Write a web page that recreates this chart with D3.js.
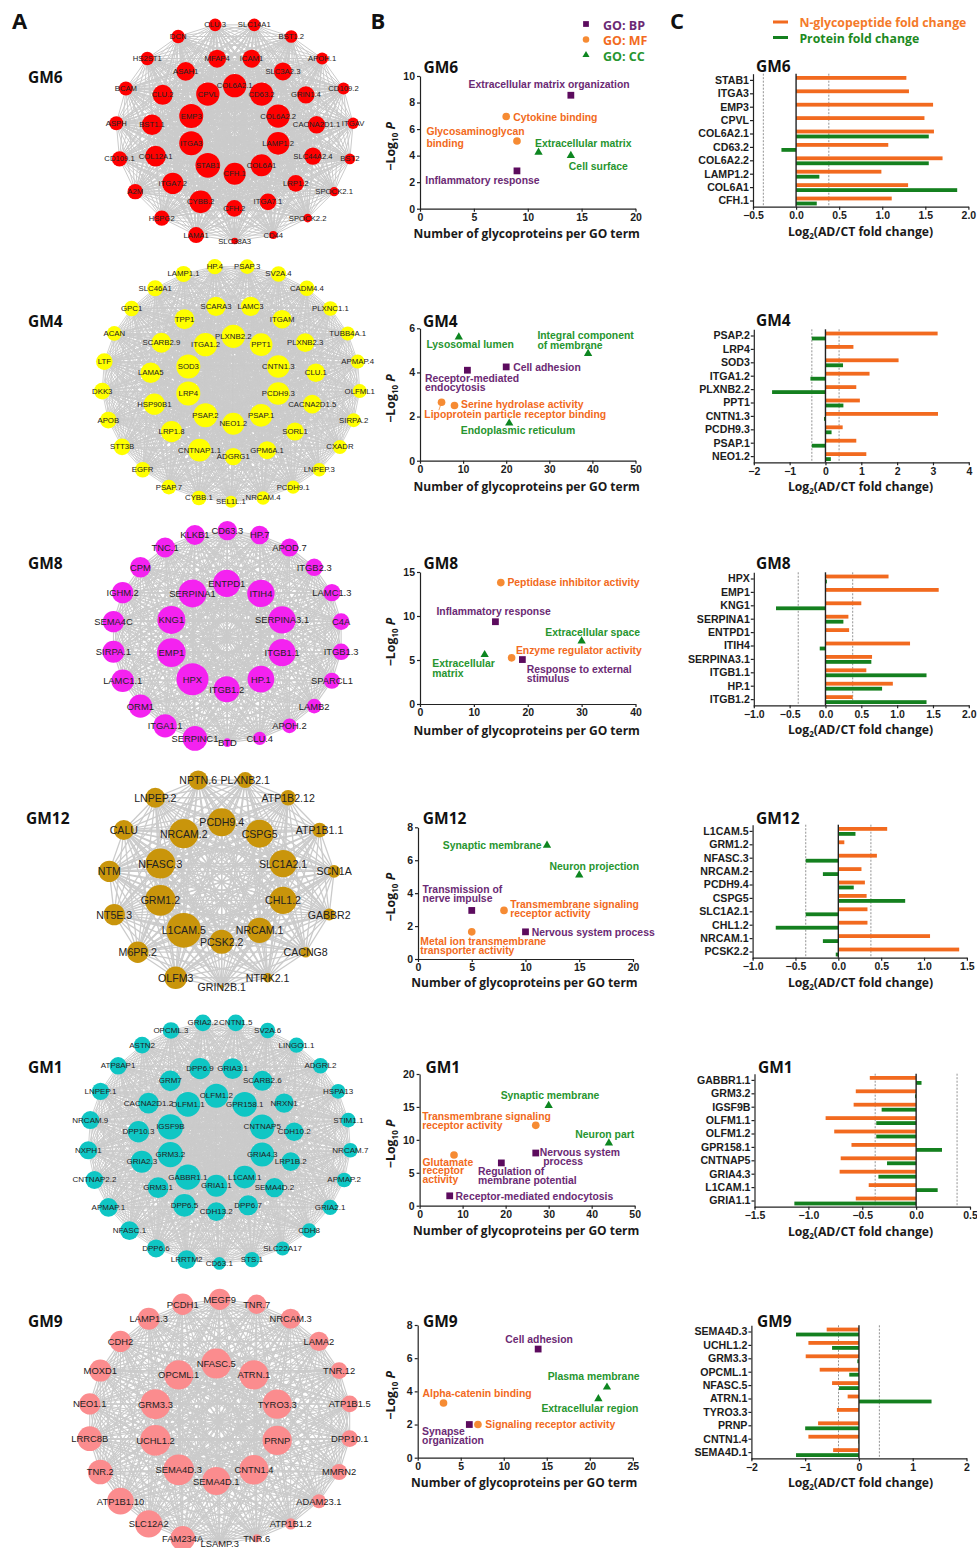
<!DOCTYPE html>
<html>
<head>
<meta charset="utf-8">
<script src="https://cdn.jsdelivr.net/npm/d3@7"></script>
<style>
  body { margin: 0; background: #fff; }
  svg { display: block; }
</style>
</head>
<body>
<div id="container"></div>
<script>
// ---------- network nodes: names per ring (clockwise from the bottom) and node weight ----------
let gm6Outer = ["LAMA1","HSPG2","A2M","CD109.1","ASPH","BCAM","HS2ST1","DCN","CLU.3","SLC14A1","BST1.2","APOH.1","CD109.2","ITGAV","BST2","SPOCK2.1","SPOCK2.2","CD44","SLC38A3"];
let gm6OuterSize = [24,23,23,23,21,21,20,20,19,19,19,18,18,17,16,14,13,12,10];
let gm6Mid = ["CYBB.2","ITGA7.2","COL12A1","BST1.1","CLU.2","ASAH1","MFAP4","ICAM1","SLC3A2.3","GRIN1.4","CACNA2D1.1","SLC44A2.4","LRP1.2","ITGA7.1","CFH.2"];
let gm6MidSize = [34,32,31,31,30,28,27,27,27,26,26,26,25,25,25];
let gm6Inner = ["STAB1","ITGA3","EMP3","CPVL","COL6A2.1","CD63.2","COL6A2.2","LAMP1.2","COL6A1","CFH.1"];
let gm6InnerSize = [37,36,36,35,35,35,35,34,33,33];

let gm4Outer = ["CYBB.1","PSAP.7","EGFR","STT3B","APOB","DKK3","LTF","ACAN","GPC1","SLC46A1","LAMP1.1","HP.4","PSAP.3","SV2A.4","CADM4.4","PLXNC1.1","TUBB4A.1","APMAP.4","OLFML1","SIRPA.2","CXADR","LNPEP.3","PCDH9.1","NRCAM.4","SEL1L.1"];
let gm4OuterSize = [22,22,23,25,25,25,25,22,23,24,24,23,22,23,23,22,21,21,21,21,21,20,20,20,18];
let gm4Mid = ["CNTNAP1.1","LRP1.8","HSP90B1","LAMA5","SCARB2.9","TPP1","SCARA3","LAMC3","ITGAM","PLXNB2.3","CLU.1","CACNA2D1.5","SORL1","GPM6A.1","ADGRG1"];
let gm4MidSize = [34,32,32,31,30,30,29,29,28,28,28,28,27,27,26];
let gm4Inner = ["PSAP.2","LRP4","SOD3","ITGA1.2","PLXNB2.2","PPT1","CNTN1.3","PCDH9.3","PSAP.1","NEO1.2"];
let gm4InnerSize = [36,36,36,35,35,34,34,34,34,33];

let gm8Outer = ["SERPINC1","ITGA1.1","ORM1","LAMC1.1","SIRPA.1","SEMA4C","IGHM.2","CPM","TNC.1","KLKB1","CD63.3","HP.7","APOD.7","ITGB2.3","LAMC1.3","C4A","ITGB1.3","SPARCL1","LAMB2","APOH.2","CLU.4","BTD"];
let gm8OuterSize = [37,35,35,34,33,32,32,31,30,30,29,28,27,26,26,25,25,24,22,22,20,13];
let gm8Inner = ["HPX","EMP1","KNG1","SERPINA1","ENTPD1","ITIH4","SERPINA3.1","ITGB1.1","HP.1","ITGB1.2"];
let gm8InnerSize = [48,43,42,42,41,41,41,41,40,39];

let gm12Outer = ["OLFM3","M6PR.2","NT5E.3","NTM","CALU","LNPEP.2","NPTN.6","PLXNB2.1","ATP1B2.12","ATP1B1.1","SCN1A","GABBR2","CACNG8","NTRK2.1","GRIN2B.1"];
let gm12OuterSize = [34,32,32,32,30,30,29,24,23,22,19,18,16,14,6];
let gm12Inner = ["L1CAM.5","GRM1.2","NFASC.3","NRCAM.2","PCDH9.4","CSPG5","SLC1A2.1","CHL1.2","NRCAM.1","PCSK2.2"];
let gm12InnerSize = [52,46,45,44,42,42,41,41,38,36];

let gm1Outer = ["LRRTM2","DPP6.6","NFASC.1","APMAP.1","CNTNAP2.2","NXPH1","NRCAM.9","LNPEP.1","ATP8AP1","ASTN2","OPCML.3","GRIA2.2","CNTN1.5","SV2A.6","LINGO1.1","ADGRL2","HSPA13","STIM1.1","NRCAM.7","APMAP.2","GRIA2.1","CDH8","SLC22A17","STS.1","CD63.1"];
let gm1OuterSize = [28,27,28,28,27,27,27,26,26,25,25,25,25,23,23,23,22,22,22,22,23,22,21,23,19];
let gm1Mid = ["DPP6.5","GRM3.1","GRIA2.3","DPP10.3","CACNA2D1.2","GRM7","DPP6.9","GRIA3.1","SCARB2.6","NRXN1","CDH10.2","LRP1B.2","SEMA4D.2","DPP6.7","CDH13.2"];
let gm1MidSize = [34,31,33,32,31,31,32,31,30,29,28,28,29,30,28];
let gm1Inner = ["GABBR1.1","GRM3.2","IGSF9B","OLFM1.1","OLFM1.2","GPR158.1","CNTNAP5","GRIA4.3","L1CAM.1","GRIA1.1"];
let gm1InnerSize = [38,38,38,37,36,37,37,36,34,33];

let gm9Outer = ["FAM234A","SLC12A2","ATP1B1.10","TNR.2","LRRC8B","NEO1.1","MOXD1","CDH2","LAMP1.3","PCDH1","MEGF9","TNR.7","NRCAM.3","LAMA2","TNR.12","ATP1B1.5","DPP10.1","MMRN2","ADAM23.1","ATP1B1.2","TNR.6","LSAMP.3"];
let gm9OuterSize = [37,41,40,37,37,32,33,32,33,32,32,29,30,29,25,25,25,24,21,17,12,5];
let gm9Inner = ["SEMA4D.3","UCHL1.2","GRM3.3","OPCML.1","NFASC.5","ATRN.1","TYRO3.3","PRNP","CNTN1.4","SEMA4D.1"];
let gm9InnerSize = [46,46,45,44,45,44,44,44,44,42];

// ---------- GO term scatter data ("\n" splits a label over lines) ----------
let gm6Terms = ["Extracellular matrix organization","Cytokine binding","Glycosaminoglycan\nbinding","Extracellular matrix","Cell surface","Inflammatory response"];
let gm6Kinds = ["BP","MF","MF","CC","CC","BP"];
let gm6Counts = [14,8,9,11,14,9];
let gm6LogP = [8.55,6.95,5.1,4.25,4.0,2.85];

let gm4Terms = ["Lysosomal lumen","Integral component\nof membrane","Cell adhesion","Receptor-mediated\nendocytosis","Serine hydrolase activity","Lipoprotein particle receptor binding","Endoplasmic reticulum"];
let gm4Kinds = ["CC","CC","BP","BP","MF","MF","CC"];
let gm4Counts = [9,39,20,11,8,5,20.7];
let gm4LogP = [5.6,4.85,4.25,4.1,2.5,2.65,1.7];

let gm8Terms = ["Peptidase inhibitor activity","Inflammatory response","Extracellular space","Extracellular\nmatrix","Enzyme regulator activity","Response to external\nstimulus"];
let gm8Kinds = ["MF","BP","CC","CC","MF","BP"];
let gm8Counts = [15,14,30,12,17,19];
let gm8LogP = [13.8,9.35,7.15,5.6,5.25,5.05];

let gm12Terms = ["Synaptic membrane","Neuron projection","Transmission of\nnerve impulse","Transmembrane signaling\nreceptor activity","Metal ion transmembrane\ntransporter activity","Nervous system process"];
let gm12Kinds = ["CC","CC","BP","MF","MF","BP"];
let gm12Counts = [12,15,5,8,5,10];
let gm12LogP = [6.9,5.1,2.95,2.95,1.65,1.65];

let gm1Terms = ["Synaptic membrane","Transmembrane signaling\nreceptor activity","Neuron part","Nervous system\nprocess","Glutamate\nreceptor\nactivity","Regulation of\nmembrane potential","Receptor-mediated endocytosis"];
let gm1Kinds = ["CC","MF","CC","BP","MF","BP","BP"];
let gm1Counts = [30,27,44,27,8,19,7];
let gm1LogP = [15.2,12.2,9.5,8,7.7,6.5,1.5];

let gm9Terms = ["Cell adhesion","Plasma membrane","Extracellular region","Alpha-catenin binding","Synapse\norganization","Signaling receptor activity"];
let gm9Kinds = ["BP","CC","CC","MF","BP","MF"];
let gm9Counts = [14,22,21,3,6,7];
let gm9LogP = [6.55,4.25,3.55,3.3,2,2];

// ---------- fold change bars (genes come from the inner ring, same order) ----------
let gm6Glyco = [1.28,1.31,1.59,1.49,1.6,1.07,1.7,0.99,1.3,1.11];
let gm6Protein = [0,0,0,0,1.54,-0.17,1.54,0.27,1.87,0.24];
let gm4Glyco = [3.13,0.78,2.04,1.23,0.86,0.96,3.14,0.48,0.86,1.14];
let gm4Protein = [-0.38,0,0.49,-0.42,-1.49,0.5,-0.04,0.17,-0.38,0.15];
let gm8Glyco = [0.88,1.58,0.5,0.32,0.33,1.18,0.65,0.57,0.94,0.38];
let gm8Protein = [0.02,0,-0.69,0.25,0,-0.08,0.64,1.41,0.79,1.41];
let gm12Glyco = [0.57,0.07,0.45,0.27,0.31,0.33,0.34,0.34,1.07,1.41];
let gm12Protein = [0.2,0,-0.38,-0.18,0.18,0.78,-0.38,-0.73,-0.18,-0.03];
let gm1Glyco = [-0.43,-0.56,-0.58,-0.84,-0.76,-0.6,-0.7,-0.71,-0.44,-0.56];
let gm1Protein = [0.05,-0.01,-0.32,-0.37,-0.37,0.24,-0.27,-0.35,0.2,-1.13];
let gm9Glyco = [-0.6,-0.94,-0.99,-0.73,-0.5,-0.21,-0.41,-0.76,-0.94,-0.48];
let gm9Protein = [-1.17,-0.5,-0.03,-0.18,-0.37,1.35,0,-1.0,-0.01,-1.17];

let thresholdFold = 0.38;

// ---------- layout: where things go, kept apart from the values ----------
let w = 977;
let h = 1548;

let kindColor = {BP: "#5c0b5e", MF: "#f68b33", CC: "#0d8620"};
let kindText = {BP: "#6b2a74", MF: "#f26a21", CC: "#27952f"};
let glycoColor = "#f26a1f";
let proteinColor = "#14801f";
let titleFont = "'Open Sans', sans-serif";
let bodyFont = "'Liberation Sans', Arial, sans-serif";

let modules = [
  {name: "GM6", fill: "#ff0000", labelSize: 7.7, edgeWidth: 1, headY: 77,
    rings: [
      {names: gm6Outer, sizes: gm6OuterSize, cx: 234.7, cy: 132.2, rx: 118.8, ry: 108.8},
      {names: gm6Mid, sizes: gm6MidSize, cx: 234.3, cy: 132.7, rx: 82.7, ry: 75.7},
      {names: gm6Inner, sizes: gm6InnerSize, cx: 234.7, cy: 129.7, rx: 45.7, ry: 44}],
    terms: gm6Terms, kinds: gm6Kinds, counts: gm6Counts, logP: gm6LogP,
    // [dx, dy, line gap, extra indent of later lines] from the marker
    labelAt: [[-102.3,-10.3],[7,0.7],[-90.6,-9.3,12],[-3.5,-9.3],[-2,10.7],[-91.7,9.3]],
    sc: {x0: 420, x1: 635.5, top: 76, y0: 208.7, xMax: 20, yMax: 10, xTicks: [0,5,10,15,20], yTicks: [0,2,4,6,8,10], headY: 66.7, headX: 423.5, titleGap: 24.5},
    bars: {x0: 753, x1: 968.4, axisY: 206.7, xMin: -0.5, xMax: 2, ticks: [-0.5,0,0.5,1,1.5,2], fmt: ".1f", headX: 756, headY: 65.7, glyco: gm6Glyco, protein: gm6Protein}},
  {name: "GM4", fill: "#ffff00", labelSize: 7.8, edgeWidth: 0.9, headY: 320.7,
    rings: [
      {names: gm4Outer, sizes: gm4OuterSize, cx: 231, cy: 383.7, rx: 129, ry: 118},
      {names: gm4Mid, sizes: gm4MidSize, cx: 233.3, cy: 380.7, rx: 83, ry: 76},
      {names: gm4Inner, sizes: gm4InnerSize, cx: 233.3, cy: 380, rx: 47.3, ry: 43.7}],
    terms: gm4Terms, kinds: gm4Kinds, counts: gm4Counts, logP: gm4LogP,
    labelAt: [[-32.4,7.3],[-50.7,-18.3,10],[7,0.7],[-42.5,8.7,9],[6.6,-1],[-17.2,12],[-48.4,7.3]],
    leader: "Lipoprotein particle receptor binding",
    sc: {x0: 420, x1: 635.5, top: 328.3, y0: 460.7, xMax: 50, yMax: 6, xTicks: [0,10,20,30,40,50], yTicks: [0,2,4,6], headY: 320.7, headX: 423, titleGap: 26},
    bars: {x0: 753.8, x1: 968.8, axisY: 462.3, xMin: -2, xMax: 4, ticks: [-2,-1,0,1,2,3,4], fmt: "d", headX: 756, headY: 320, glyco: gm4Glyco, protein: gm4Protein}},
  {name: "GM8", fill: "#f422f0", labelSize: 9.4, edgeWidth: 1.1, headY: 563,
    rings: [
      {names: gm8Outer, sizes: gm8OuterSize, cx: 227.3, cy: 636.7, rx: 115, ry: 106},
      {names: gm8Inner, sizes: gm8InnerSize, cx: 226.7, cy: 636.3, rx: 58.2, ry: 53}],
    terms: gm8Terms, kinds: gm8Kinds, counts: gm8Counts, logP: gm8LogP,
    labelAt: [[6.6,0],[-59,-10.7],[-36.3,-8.3],[-52.3,9,9.7],[4.3,-7.3],[4.3,9.7,9.3]],
    sc: {x0: 420, x1: 635.5, top: 572, y0: 704, xMax: 40, yMax: 15, xTicks: [0,10,20,30,40], yTicks: [0,5,10,15], headY: 563, headX: 423.5, titleGap: 26},
    bars: {x0: 753.8, x1: 968.8, axisY: 705.3, xMin: -1, xMax: 2, ticks: [-1,-0.5,0,0.5,1,1.5,2], fmt: ".1f", headX: 756, headY: 563, glyco: gm8Glyco, protein: gm8Protein}},
  {name: "GM12", fill: "#c9950b", labelSize: 10.6, edgeWidth: 1.3, headY: 818,
    rings: [
      {names: gm12Outer, sizes: gm12OuterSize, cx: 221.7, cy: 882.3, rx: 113, ry: 104.5},
      {names: gm12Inner, sizes: gm12InnerSize, cx: 221.7, cy: 882, rx: 64.5, ry: 59.7}],
    terms: gm12Terms, kinds: gm12Kinds, counts: gm12Counts, logP: gm12LogP,
    labelAt: [[-104.2,0],[-29.7,-8.7],[-49.2,-21.3,9.3],[6.2,-6,8.7],[-51.5,9.7,8.6],[6.2,0.3]],
    sc: {x0: 418, x1: 633, top: 827.3, y0: 959, xMax: 20, yMax: 8, xTicks: [0,5,10,15,20], yTicks: [0,2,4,6,8], headY: 817.7, headX: 422.8, titleGap: 23},
    bars: {x0: 752.6, x1: 966.9, axisY: 957.7, xMin: -1, xMax: 1.5, ticks: [-1,-0.5,0,0.5,1,1.5], fmt: ".1f", headX: 756, headY: 817.7, glyco: gm12Glyco, protein: gm12Protein}},
  {name: "GM1", fill: "#0fc6c4", labelSize: 8, edgeWidth: 0.9, headY: 1067,
    rings: [
      {names: gm1Outer, sizes: gm1OuterSize, cx: 219.3, cy: 1142.7, rx: 131.3, ry: 120.7},
      {names: gm1Mid, sizes: gm1MidSize, cx: 216.3, cy: 1139.3, rx: 78.3, ry: 72.3},
      {names: gm1Inner, sizes: gm1InnerSize, cx: 216.3, cy: 1140.7, rx: 48.3, ry: 45}],
    terms: gm1Terms, kinds: gm1Kinds, counts: gm1Counts, logP: gm1LogP,
    labelAt: [[-48,-10.3],[-113.6,-9,9],[-33.6,-8.7],[3.9,-1,9.2,3.5],[-31.6,7.3,8.7],[-23.4,8.7,9],[5.9,1]],
    sc: {x0: 419.6, x1: 634.7, top: 1074, y0: 1205.7, xMax: 50, yMax: 20, xTicks: [0,10,20,30,40,50], yTicks: [0,5,10,15,20], headY: 1067, headX: 425.5, titleGap: 25},
    bars: {x0: 754.5, x1: 970, axisY: 1206.7, xMin: -1.5, xMax: 0.5, ticks: [-1.5,-1,-0.5,0,0.5], fmt: ".1f", headX: 758, headY: 1067, glyco: gm1Glyco, protein: gm1Protein}},
  {name: "GM9", fill: "#fb8c8e", labelSize: 9.4, edgeWidth: 1.1, headY: 1321,
    rings: [
      {names: gm9Outer, sizes: gm9OuterSize, cx: 219.7, cy: 1421.3, rx: 131.3, ry: 122},
      {names: gm9Inner, sizes: gm9InnerSize, cx: 216.3, cy: 1422.3, rx: 64, ry: 58.7}],
    terms: gm9Terms, kinds: gm9Kinds, counts: gm9Counts, logP: gm9LogP,
    labelAt: [[-32.8,-10],[-59.3,-10.7],[-57,9.7],[-21,-9.7],[-47.2,6.7,9.3],[7.4,0]],
    sc: {x0: 417.7, x1: 632.8, top: 1325, y0: 1457.7, xMax: 25, yMax: 8, xTicks: [0,5,10,15,20,25], yTicks: [0,2,4,6,8], headY: 1320.7, headX: 423, titleGap: 25},
    bars: {x0: 751.4, x1: 966.5, axisY: 1458.3, xMin: -2, xMax: 2, ticks: [-2,-1,0,1,2], fmt: "d", headX: 757, headY: 1320.7, glyco: gm9Glyco, protein: gm9Protein}}
];

let viz = d3.select("#container")
  .append("svg")
    .attr("width", w)
    .attr("height", h)
    .attr("viewBox", "0 0 " + w + " " + h)
;

function heading(x, y, label, size){
  viz.append("text")
    .text(label)
    .attr("x", x)
    .attr("y", y)
    .attr("dominant-baseline", "central")
    .attr("font-family", titleFont)
    .attr("font-weight", 700)
    .attr("font-size", size)
    .attr("fill", "#111")
  ;
}

// panel letters
heading(12, 20, "A", 22);
heading(370.5, 20, "B", 22);
heading(670, 20, "C", 22);

// ---------- panel A: circular networks ----------
let nodeRadius = d3.scaleLinear().domain([0, 60]).range([0, 20]);

function drawNetwork(mod){
  heading(mod.name == "GM12" ? 26 : 28, mod.headY, mod.name, 15.5);

  let nodes = [];
  mod.rings.forEach(function(ring){
    let ringX = d3.scaleLinear().domain([-1, 1]).range([ring.cx - ring.rx, ring.cx + ring.rx]);
    let ringY = d3.scaleLinear().domain([-1, 1]).range([ring.cy - ring.ry, ring.cy + ring.ry]);
    // the bottom node is the last one, the first sits one step clockwise of it
    let angle = d3.scaleLinear().domain([0, ring.names.length]).range([0, 2 * Math.PI]);
    ring.names.forEach(function(name, i){
      nodes.push({
        name: name,
        size: ring.sizes[i],
        x: ringX(-Math.sin(angle(i + 1))),
        y: ringY(Math.cos(angle(i + 1)))
      });
    });
  });

  // every pair of nodes in a module is linked
  let edges = d3.cross(nodes, nodes).filter(function(pair){
    return nodes.indexOf(pair[0]) < nodes.indexOf(pair[1]);
  });

  let g = viz.append("g").attr("class", "network");
  g.append("g").selectAll("line").data(edges).enter()
    .append("line")
      .attr("x1", function(d){ return d[0].x; })
      .attr("y1", function(d){ return d[0].y; })
      .attr("x2", function(d){ return d[1].x; })
      .attr("y2", function(d){ return d[1].y; })
      .attr("stroke", "#cbcbcb")
      .attr("stroke-width", mod.edgeWidth)
  ;
  g.append("g").selectAll("circle").data(nodes).enter()
    .append("circle")
      .attr("cx", function(d){ return d.x; })
      .attr("cy", function(d){ return d.y; })
      .attr("r", function(d){ return nodeRadius(d.size); })
      .attr("fill", mod.fill)
  ;
  g.append("g").selectAll("text").data(nodes).enter()
    .append("text")
      .text(function(d){ return d.name; })
      .attr("x", function(d){ return d.x; })
      .attr("y", function(d){ return d.y; })
      .attr("text-anchor", "middle")
      .attr("dominant-baseline", "central")
      .attr("font-family", bodyFont)
      .attr("font-size", mod.labelSize)
      .attr("fill", "#222")
  ;
}

function styleAxis(axisGroup, fontSize){
  axisGroup.selectAll("text")
    .attr("font-family", bodyFont)
    .attr("font-weight", 700)
    .attr("font-size", fontSize)
    .attr("fill", "#1c1c1c")
  ;
  axisGroup.selectAll("path, line").attr("stroke", "#222").attr("stroke-width", 1.2);
}

// ---------- panel B: GO term scatter ----------
let markers = {
  BP: d3.symbol().type(d3.symbolSquare).size(46),
  MF: d3.symbol().type(d3.symbolCircle).size(46),
  CC: d3.symbol().type(d3.symbolTriangle).size(30)
};

function drawScatter(mod){
  let sc = mod.sc;
  heading(sc.headX, sc.headY, mod.name, 15.5);

  let xScale = d3.scaleLinear().domain([0, sc.xMax]).range([sc.x0, sc.x1]);
  let yScale = d3.scaleLinear().domain([0, sc.yMax]).range([sc.y0, sc.top]);

  let xAxis = d3.axisBottom(xScale).tickValues(sc.xTicks).tickFormat(d3.format("d")).tickSize(3).tickSizeOuter(0).tickPadding(2);
  let xAxisGroup = viz.append("g").attr("class", "xaxis");
  xAxisGroup.call(xAxis);
  xAxisGroup.attr("transform", "translate(0, " + sc.y0 + ")");
  styleAxis(xAxisGroup, 10.5);

  let yAxis = d3.axisLeft(yScale).tickValues(sc.yTicks).tickFormat(d3.format("d")).tickSize(3).tickSizeOuter(0).tickPadding(2);
  let yAxisGroup = viz.append("g").attr("class", "yaxis");
  yAxisGroup.call(yAxis);
  yAxisGroup.attr("transform", "translate(" + sc.x0 + ", 0)");
  styleAxis(yAxisGroup, 10.5);

  viz.append("text")
    .text("Number of glycoproteins per GO term")
    .attr("x", (sc.x0 + sc.x1) / 2 - 1)
    .attr("y", sc.y0 + sc.titleGap)
    .attr("text-anchor", "middle")
    .attr("dominant-baseline", "central")
    .attr("font-family", titleFont)
    .attr("font-weight", 700)
    .attr("font-size", 12)
    .attr("fill", "#1a1a1a")
  ;

  let yTitle = viz.append("text")
    .attr("transform", "translate(395, " + ((sc.top + sc.y0) / 2 + 4) + ") rotate(-90)")
    .attr("text-anchor", "middle")
    .attr("font-family", titleFont)
    .attr("font-weight", 700)
    .attr("font-size", 12.4)
    .attr("fill", "#1a1a1a")
  ;
  yTitle.append("tspan").text("\u2212Log");
  yTitle.append("tspan").text("10").attr("font-size", 8).attr("dy", 3);
  yTitle.append("tspan").text(" P").attr("font-style", "italic").attr("dy", -3);

  mod.terms.forEach(function(term, i){
    let px = xScale(mod.counts[i]);
    let py = yScale(mod.logP[i]);
    let kind = mod.kinds[i];

    if(mod.leader == term){
      viz.append("line")
        .attr("x1", px).attr("y1", py)
        .attr("x2", px - 2.7).attr("y2", py + 8)
        .attr("stroke", kindColor[kind])
        .attr("stroke-width", 0.8)
      ;
    }

    viz.append("path")
      .attr("d", markers[kind]())
      .attr("transform", "translate(" + px + ", " + py + ")")
      .attr("fill", kindColor[kind])
    ;

    let at = mod.labelAt[i];
    term.split("\n").forEach(function(line, k){
      viz.append("text")
        .text(line)
        .attr("x", px + at[0] + (k > 0 && at[3] ? at[3] : 0))
        .attr("y", py + at[1] + k * (at[2] || 0))
        .attr("dominant-baseline", "central")
        .attr("font-family", bodyFont)
        .attr("font-weight", 700)
        .attr("font-size", 10.4)
        .attr("fill", kindText[kind])
      ;
    });
  });
}

// ---------- panel C: fold change bars ----------
function drawBars(mod){
  let b = mod.bars;
  // the ten genes of the bars are the ten hubs of the network
  let genes = mod.rings[mod.rings.length - 1].names;
  heading(b.headX, b.headY, mod.name, 15.5);

  let xScale = d3.scaleLinear().domain([b.xMin, b.xMax]).range([b.x0, b.x1]);
  let yScale = d3.scaleBand().domain(genes).range([b.axisY - 133, b.axisY + 1]);
  let inner = d3.scaleBand().domain(["glyco", "protein"]).range([-4.4, 4.4]).paddingInner(0.24);

  // threshold lines
  viz.append("g").selectAll("line").data([-thresholdFold, thresholdFold]).enter()
    .append("line")
      .attr("x1", function(d){ return xScale(d); })
      .attr("x2", function(d){ return xScale(d); })
      .attr("y1", b.axisY - 133)
      .attr("y2", b.axisY)
      .attr("stroke", "#777")
      .attr("stroke-width", 0.8)
      .attr("stroke-dasharray", "2,1.5")
  ;

  function drawSeries(values, key, color){
    viz.append("g").selectAll("rect").data(values).enter()
      .append("rect")
        .attr("x", function(d){ return xScale(Math.min(d, 0)); })
        .attr("width", function(d){ return Math.abs(xScale(d) - xScale(0)); })
        .attr("y", function(d, i){ return yScale(genes[i]) + yScale.bandwidth() / 2 + inner(key); })
        .attr("height", inner.bandwidth())
        .attr("fill", color)
    ;
  }
  drawSeries(b.glyco, "glyco", glycoColor);
  drawSeries(b.protein, "protein", proteinColor);

  // zero line
  viz.append("line")
    .attr("x1", xScale(0)).attr("x2", xScale(0))
    .attr("y1", b.axisY - 133).attr("y2", b.axisY)
    .attr("stroke", "#222")
    .attr("stroke-width", 1.4)
  ;

  let xAxisGroup = viz.append("g").attr("class", "xaxis");
  xAxisGroup.call(d3.axisBottom(xScale).tickValues(b.ticks).tickFormat(d3.format(b.fmt)).tickSize(3).tickSizeOuter(0).tickPadding(2));
  xAxisGroup.attr("transform", "translate(0, " + b.axisY + ")");
  styleAxis(xAxisGroup, 10.5);

  let yAxisGroup = viz.append("g").attr("class", "yaxis");
  yAxisGroup.call(d3.axisLeft(yScale).tickSize(3).tickSizeOuter(0).tickPadding(1));
  yAxisGroup.attr("transform", "translate(" + b.x0 + ", 0)");
  styleAxis(yAxisGroup, 10.6);

  let title = viz.append("text")
    .attr("x", 860.5)
    .attr("y", b.axisY + 29)
    .attr("text-anchor", "middle")
    .attr("font-family", titleFont)
    .attr("font-weight", 700)
    .attr("font-size", 12.2)
    .attr("fill", "#1a1a1a")
  ;
  title.append("tspan").text("Log");
  title.append("tspan").text("2").attr("font-size", 8).attr("dy", 3);
  title.append("tspan").text("(AD/CT fold change)").attr("dy", -3);
}

modules.forEach(function(mod){
  drawNetwork(mod);
  drawScatter(mod);
  drawBars(mod);
});

// ---------- legends ----------
let goKeys = ["BP", "MF", "CC"];
let goLegendY = d3.scalePoint().domain(goKeys).range([24, 55]);
goKeys.forEach(function(key){
  viz.append("path")
    .attr("d", markers[key]())
    .attr("transform", "translate(586, " + goLegendY(key) + ") scale(0.85)")
    .attr("fill", kindColor[key])
  ;
  viz.append("text")
    .text("GO: " + key)
    .attr("x", 603)
    .attr("y", goLegendY(key) + 1)
    .attr("dominant-baseline", "central")
    .attr("font-family", titleFont)
    .attr("font-weight", 700)
    .attr("font-size", 12.5)
    .attr("fill", kindText[key])
  ;
});

let foldKeys = ["N-glycopeptide fold change", "Protein fold change"];
let foldColors = [glycoColor, proteinColor];
let foldLegendY = d3.scalePoint().domain(foldKeys).range([22, 37.5]);
foldKeys.forEach(function(key, i){
  viz.append("rect")
    .attr("x", 773)
    .attr("y", foldLegendY(key) - 1.5)
    .attr("width", 15)
    .attr("height", 3)
    .attr("fill", foldColors[i])
  ;
  viz.append("text")
    .text(key)
    .attr("x", 799.4)
    .attr("y", foldLegendY(key) + 0.5)
    .attr("dominant-baseline", "central")
    .attr("font-family", titleFont)
    .attr("font-weight", 700)
    .attr("font-size", 12.3)
    .attr("fill", i == 0 ? "#f47a2a" : "#1d8a22")
  ;
});
</script>
</body>
</html>
